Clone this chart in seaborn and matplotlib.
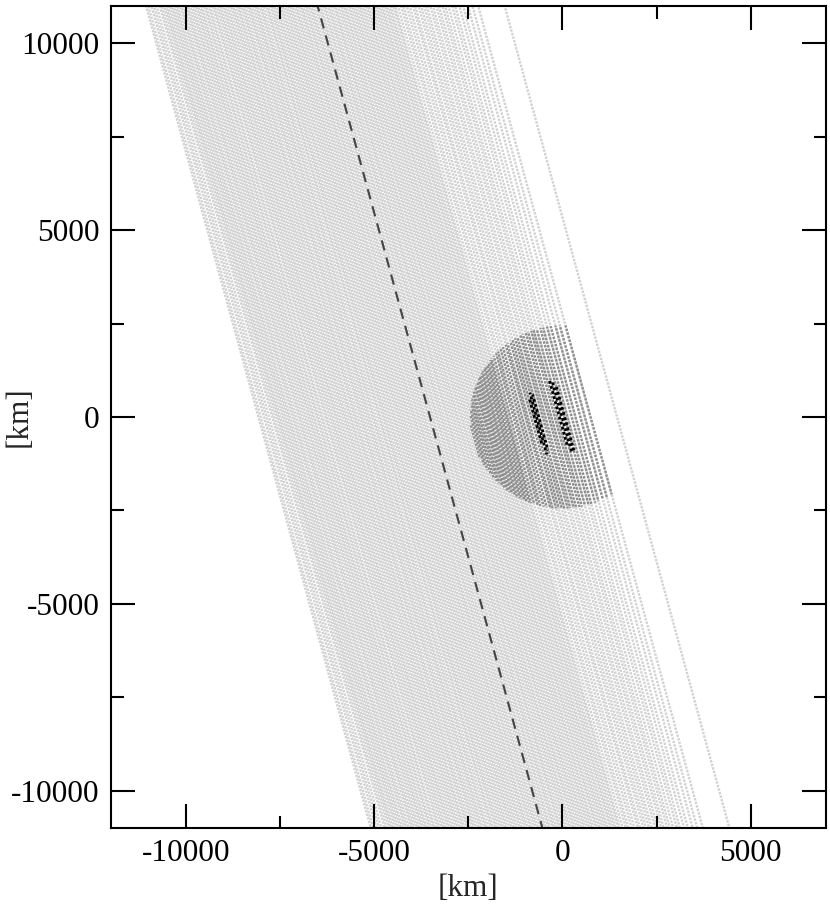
import numpy as np
import pandas as pd
import seaborn as sns
import matplotlib.pyplot as plt

# chord positions (x at y=0, km), all chords run parallel to the central line
chord_x0 = [
    -8080, -8020, -7935, -7870, -7800, -7715, -7660,
    -7600, -7550, -7505, -7445, -7395, -7345, -7290, -7245, -7180, -7135,
    -7080, -7015, -6970, -6915, -6855, -6805, -6745, -6700, -6640, -6595,
    -6530, -6485, -6420, -6375, -6305, -6260, -6200, -6145, -6095, -6035,
    -5990, -5930, -5875, -5815, -5765, -5710, -5650, -5605, -5540, -5495,
    -5440, -5375, -5330, -5275, -5215, -5160, -5115, -5050, -5005, -4945,
    -4880, -4840, -4775, -4730, -4675, -4615, -4565, -4505, -4455, -4395,
    -4345, -4290, -4235, -4185, -4125, -4075, -4015, -3960, -3915, -3850,
    -3805, -3745, -3690, -3640, -3575, -3530, -3470, -3425, -3360, -3315,
    -3250, -3205, -3150, -3085, -3045, -2985, -2925, -2875, -2815, -2770,
    -2705, -2660, -2600, -2545, -2495, -2435, -2385, -2325, -2275, -2215,
    -2170, -2105, -2060, -2000, -1945, -1895, -1835, -1790, -1725, -1680,
    -1620, -1570, -1505, -1460,
    -1385, -1300, -1235, -1150, -1075, -985, -925, -835, -765, -685,
    -615, -525, -455, -365, -295, -205, -135, -45, 55, 135, 245, 345,
    475, 595, 745,
]
far_chord_x0 = [1450]    # lone chord well off the body
slope = -0.2715          # dx/dy of every chord
center_x0 = -3520        # central (dashed) chord
body_radius = 2450       # km, body centered at origin

# observed (black) chord segments
black_x0 = [-745, -690, -630, -80, -10, 60]
black_ylo = [-700, -1000, -900, -800, -950, -900]
black_yhi = [500, 650, 600, 1000, 950, 800]

xlim = (-12000, 7000)
ylim = (-11000, 11000)

sns.set_style('ticks')
plt.rcParams['font.family'] = ['Liberation Serif', 'DejaVu Serif']
plt.rcParams['font.size'] = 22.5
plt.rcParams['axes.unicode_minus'] = False

fig = plt.figure(figsize=(8.3, 9.06), dpi=100)
ax = fig.add_axes([0.1337, 0.0861, 0.8613, 0.9073])


def dotted(start, on, off):
    # shift the dot phase from chord to chord so the dots don't line up
    for k, line in enumerate(ax.lines[start:]):
        line.set_linestyle(((k * 0.37) % (on + off), (on, off)))


# full chords
rows = []
for i, x0 in enumerate(chord_x0 + far_chord_x0):
    for y in (-12000, 12000):
        rows.append((i, x0 + slope * y, y))
full = pd.DataFrame(rows, columns=['chord', 'x', 'y'])
n0 = len(ax.lines)
sns.lineplot(data=full, x='x', y='y', units='chord', estimator=None, sort=False,
             color='#d2d2d2', lw=1.7, ax=ax, legend=False)
dotted(n0, 1.0, 0.55)

# chord parts that cross the body
a = 1 + slope ** 2
rows = []
for i, x0 in enumerate(chord_x0):
    b = 2 * slope * x0
    c = x0 ** 2 - body_radius ** 2
    disc = b * b - 4 * a * c
    if disc <= 0:
        continue
    for y in ((-b - np.sqrt(disc)) / (2 * a), (-b + np.sqrt(disc)) / (2 * a)):
        rows.append((i, x0 + slope * y, y))
inside = pd.DataFrame(rows, columns=['chord', 'x', 'y'])
n0 = len(ax.lines)
sns.lineplot(data=inside, x='x', y='y', units='chord', estimator=None, sort=False,
             color='#8e8e8e', lw=1.7, ax=ax, legend=False)
dotted(n0, 1.0, 0.6)

# black segments
rows = []
for i, x0 in enumerate(black_x0):
    for y in (black_ylo[i], black_yhi[i]):
        rows.append((i, x0 + slope * y, y))
black = pd.DataFrame(rows, columns=['chord', 'x', 'y'])
n0 = len(ax.lines)
sns.lineplot(data=black, x='x', y='y', units='chord', estimator=None, sort=False,
             color='black', lw=2.0, ax=ax, legend=False)
dotted(n0, 1.0, 0.9)

# central line
cy = np.array([-12000, 12000])
sns.lineplot(x=center_x0 + slope * cy, y=cy, sort=False, color='#444444', lw=1.5,
             linestyle=(0, (5, 3.5)), ax=ax)

ax.set_xticks([-10000, -5000, 0, 5000])
ax.set_yticks([-10000, -5000, 0, 5000, 10000])
ax.set_xticks(np.arange(-10000, 7001, 2500), minor=True)
ax.set_yticks(np.arange(-10000, 10001, 2500), minor=True)
ax.set_xlim(*xlim)
ax.set_ylim(*ylim)
ax.set_axisbelow(False)
ax.tick_params(which='major', direction='in', length=17, width=1.5,
               top=True, right=True, pad=8, labelsize=22.5, colors='black')
ax.tick_params(which='minor', direction='in', length=9, width=1.5,
               top=True, right=True, color='black')
for s in ax.spines.values():
    s.set_linewidth(1.5)
    s.set_color('black')
ax.set_xlabel('[km]', fontsize=22.5, labelpad=4)
ax.set_ylabel('[km]', fontsize=22.5)
ax.yaxis.set_label_coords(-0.108, 0.5)

fig.savefig('out.png', dpi=100)
